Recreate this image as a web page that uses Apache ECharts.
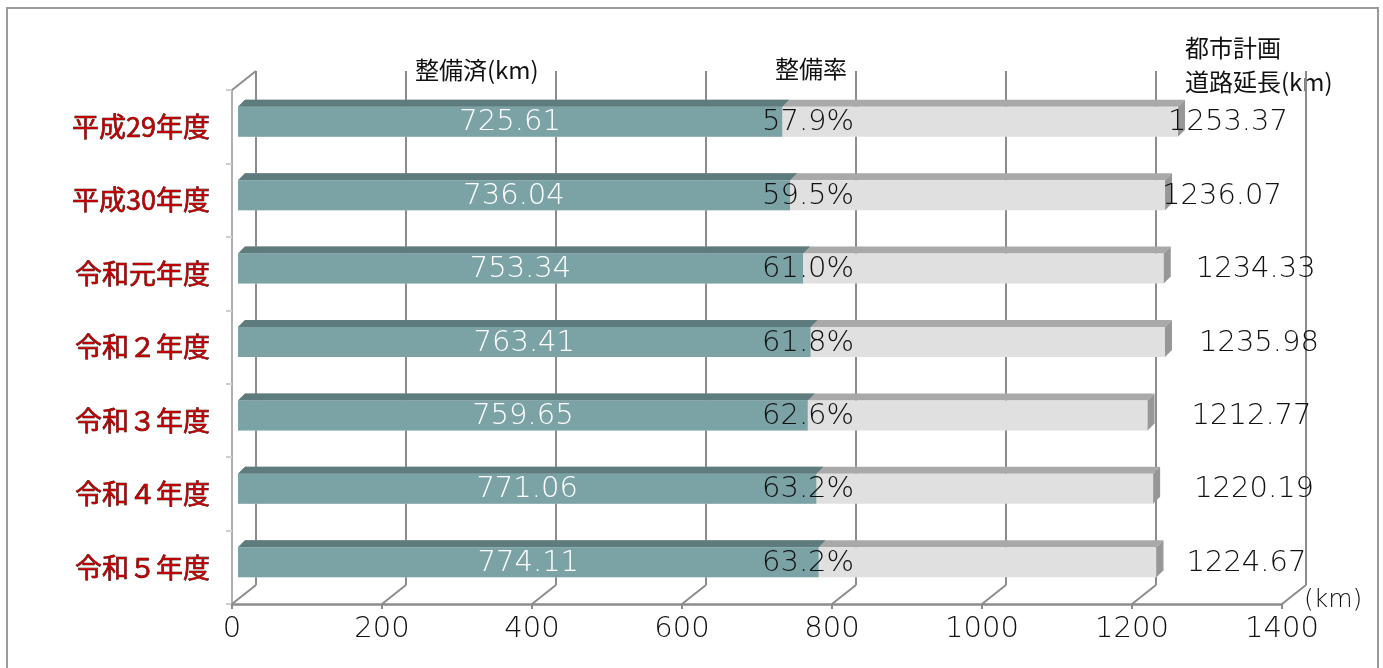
<!DOCTYPE html>
<html>
<head>
<meta charset="utf-8">
<script src="https://cdn.jsdelivr.net/npm/echarts@6/dist/echarts.min.js"></script>
<style>
html,body{margin:0;padding:0;background:#fff;}
#chart{width:1383px;height:668px;}
</style>
</head>
<body>
<div id="chart"></div>
<script>
// ---- data ----
const categories = ['平成29年度','平成30年度','令和元年度','令和２年度','令和３年度','令和４年度','令和５年度'];
const completedKm = [725.61, 736.04, 753.34, 763.41, 759.65, 771.06, 774.11];
const plannedKm = [1253.37, 1236.07, 1234.33, 1235.98, 1212.77, 1220.19, 1224.67];
const ratePct = [57.9, 59.5, 61.0, 61.8, 62.6, 63.2, 63.2];
const xTicks = [0, 200, 400, 600, 800, 1000, 1200, 1400];

// ---- style ----
const NUM_FONT = "'DejaVu Sans', sans-serif";
const JP_FONT = "'Noto Sans CJK JP', sans-serif";
const NUM_SIZE = 29;
const totalLabelNudge = [-10, -3, 32, 34, 44, 41, 30];
const DEPTH_X = 24, DEPTH_Y = 19;       // wall depth
const FACE_DX = 6, FACE_DY = -5;        // bar front face offset
const TOP_DX = 7, TOP_DY = 7;           // bar depth
const BAR_H = 30;
const GRID_COLOR = '#8c8c8c';

function barGeom(api) {
  const v = api.value(0), i = api.value(1);
  const base = api.coord([0, i]);
  const end = api.coord([v, i]);
  const x0 = base[0] + FACE_DX, x1 = end[0] + FACE_DX;
  const yc = base[1] + FACE_DY;
  return {i, v, x0, x1, yc, yt: yc - BAR_H / 2, yb: yc + BAR_H / 2};
}

function numText(text, x, y, fill, align) {
  return {type: 'text', z2: 10, style: {text, x, y, fill, fontSize: NUM_SIZE, fontFamily: NUM_FONT,
          fontWeight: 200, align, verticalAlign: 'middle'}};
}

function renderBar(front, top, side, isTotal) {
  return function (params, api) {
    const g = barGeom(api);
    const children = [
      {type: 'polygon', shape: {points: [[g.x0, g.yt], [g.x1, g.yt], [g.x1 + TOP_DX, g.yt - TOP_DY], [g.x0 + TOP_DX, g.yt - TOP_DY]]},
       style: {fill: top}, z2: 1},
      {type: 'rect', shape: {x: g.x0, y: g.yt, width: g.x1 - g.x0, height: BAR_H}, style: {fill: front}, z2: 1}
    ];
    if (side) {
      children.push({type: 'polygon', shape: {points: [[g.x1, g.yt], [g.x1 + TOP_DX, g.yt - TOP_DY], [g.x1 + TOP_DX, g.yb - TOP_DY], [g.x1, g.yb]]},
        style: {fill: side}, z2: 1});
    }
    if (isTotal) {
      children.push(numText(plannedKm[g.i].toFixed(2), g.x1 + totalLabelNudge[g.i], g.yc + 1, '#111', 'left'));
    } else {
      children.push(numText(completedKm[g.i].toFixed(2), (g.x0 + g.x1) / 2, g.yc + 1, '#fff', 'center'));
      children.push(numText(ratePct[g.i].toFixed(1) + '%', g.x0 + 524, g.yc + 1, '#111', 'left'));
    }
    return {type: 'group', children};
  };
}

const chart = echarts.init(document.getElementById('chart'));
const option = {
  backgroundColor: '#fff',
  animation: false,
  grid: [
    {left: 232, right: 101, top: 90, bottom: 64},
    {left: 232 + DEPTH_X, right: 101 - DEPTH_X, top: 90 - DEPTH_Y, bottom: 64 + DEPTH_Y}
  ],
  xAxis: [
    {type: 'value', gridIndex: 0, min: 0, max: 1400, interval: 200,
     axisLine: {show: true, lineStyle: {color: GRID_COLOR, width: 2.5}},
     axisTick: {show: true, length: 5, lineStyle: {color: GRID_COLOR, width: 2}},
     splitLine: {show: false},
     axisLabel: {color: '#111', fontSize: NUM_SIZE, fontFamily: NUM_FONT, fontWeight: 200, margin: 11,
                 formatter: v => String(v)}},
    {type: 'value', gridIndex: 1, min: 0, max: 1400, interval: 200,
     axisLine: {show: false}, axisTick: {show: false}, axisLabel: {show: false},
     splitLine: {show: true, lineStyle: {color: GRID_COLOR, width: 2}}}
  ],
  yAxis: [
    {type: 'category', gridIndex: 0, data: categories, inverse: true,
     axisLine: {show: true, lineStyle: {color: '#b0b0b0', width: 2}},
     axisTick: {show: true, length: 6, lineStyle: {color: '#cfcfcf', width: 2}},
     axisLabel: {margin: 22, fontSize: 27, fontFamily: JP_FONT, color: '#c00000',
                 textBorderColor: '#1a0000', textBorderWidth: 0.6}},
    {type: 'category', gridIndex: 1, data: categories, inverse: true, show: false}
  ],
  graphic: [
    {type: 'rect', shape: {x: 7, y: 8, width: 1371, height: 700}, style: {fill: 'none', stroke: '#9a9a9a', lineWidth: 2}, z: -10},
    {type: 'text', left: 415, top: 58, style: {text: '整備済(km)', fontSize: 24, fontFamily: JP_FONT, fill: '#111'}},
    {type: 'text', left: 775, top: 57, style: {text: '整備率', fontSize: 24, fontFamily: JP_FONT, fill: '#111'}},
    {type: 'text', left: 1185, top: 36, style: {text: '都市計画', fontSize: 24, fontFamily: JP_FONT, fill: '#111'}},
    {type: 'text', left: 1185, top: 70, style: {text: '道路延長(km)', fontSize: 24, fontFamily: JP_FONT, fill: '#111'}},
    {type: 'text', left: 1304, top: 588, style: {text: '(km)', fontSize: 25, fontFamily: NUM_FONT, fontWeight: 200, fill: '#111'}}
  ],
  series: [
    {
      type: 'custom', name: 'walls', xAxisIndex: 0, yAxisIndex: 0, clip: false, silent: true, z: 1,
      data: xTicks.map(v => [v, 0]),
      encode: {x: 0, y: 1},
      renderItem: function (params, api) {
        const cs = params.coordSys;
        const v = api.value(0);
        const p = api.coord([v, 0]);
        const bottom = cs.y + cs.height;
        const lines = [{type: 'line', shape: {x1: p[0], y1: bottom, x2: p[0] + DEPTH_X, y2: bottom - DEPTH_Y},
                        style: {stroke: GRID_COLOR, lineWidth: 2}}];
        if (v === 0) {
          lines.push({type: 'line', shape: {x1: p[0], y1: cs.y, x2: p[0] + DEPTH_X, y2: cs.y - DEPTH_Y},
                      style: {stroke: GRID_COLOR, lineWidth: 2}});
        }
        return {type: 'group', children: lines};
      }
    },
    {
      type: 'custom', name: '都市計画道路延長', xAxisIndex: 0, yAxisIndex: 0, clip: false, z: 3,
      data: plannedKm.map((v, i) => [v, i]),
      encode: {x: 0, y: 1},
      renderItem: renderBar('#dfe0df', '#a9a9a9', '#979797', true)
    },
    {
      type: 'custom', name: '整備済', xAxisIndex: 0, yAxisIndex: 0, clip: false, z: 4,
      data: completedKm.map((v, i) => [v, i]),
      encode: {x: 0, y: 1},
      renderItem: renderBar('#7ba3a6', '#5e7c7e', null, false)
    }
  ]
};
chart.setOption(option);
</script>
</body>
</html>
